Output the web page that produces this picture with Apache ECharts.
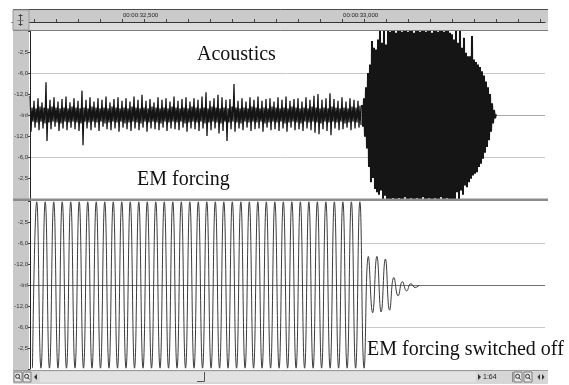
<!DOCTYPE html>
<html>
<head>
<meta charset="utf-8">
<title>Acoustics and EM forcing</title>
<script src="https://cdn.jsdelivr.net/npm/echarts@6/dist/echarts.min.js"></script>
<style>
  html, body { margin: 0; padding: 0; background: #ffffff; }
  #chart { width: 569px; height: 385px; }
</style>
</head>
<body>
<div id="chart"></div>
<script>
// ---- time window (milliseconds) ----
const viewStartMs = 32291;
const viewEndMs = 33461;
const rulerStartMs = 32250;
const rulerMinorMs = 50;
const rulerMajorMs = 500;

// ---- level marks: linear amplitude and the dB caption shown for it ----
const levelAmplitudes = [0.25, 0.5, 0.75];
const levelLabels = ['-12,0', '-6,0', '-2,5'];
const silenceLabel = '-Inf';

// ---- acoustic channel: one sample per screen column ----
const acousticStartMs = 32291;
const acousticStepMs = 2.2718;

// background noise before the burst
const acousticNoise = [
  0.23,-0.2,0.09,-0.08, 0.17,-0.15,0.08,-0.09, 0.2,-0.18,0.1,-0.08, 0.15,-0.16,0.09,-0.1,
  0.39,-0.31,0.08,-0.09, 0.18,-0.17,0.1,-0.08, 0.21,-0.14,0.09,-0.09, 0.16,-0.19,0.08,-0.1,
  0.19,-0.16,0.09,-0.08, 0.22,-0.18,0.08,-0.09, 0.15,-0.15,0.1,-0.08, 0.2,-0.17,0.09,-0.09,
  0.17,-0.19,0.08,-0.1, 0.29,-0.36,0.09,-0.08, 0.18,-0.16,0.08,-0.09, 0.21,-0.18,0.1,-0.08,
  0.16,-0.15,0.09,-0.09, 0.2,-0.19,0.08,-0.08, 0.18,-0.14,0.09,-0.1, 0.22,-0.17,0.08,-0.09,
  0.15,-0.18,0.1,-0.08, 0.19,-0.16,0.09,-0.09, 0.21,-0.2,0.08,-0.08, 0.17,-0.15,0.09,-0.1,
  0.2,-0.17,0.08,-0.09, 0.16,-0.19,0.1,-0.08, 0.22,-0.16,0.09,-0.09, 0.18,-0.18,0.08,-0.1,
  0.24,-0.15,0.09,-0.08, 0.17,-0.2,0.08,-0.09, 0.19,-0.16,0.1,-0.08, 0.15,-0.17,0.09,-0.09,
  0.21,-0.18,0.08,-0.1, 0.18,-0.15,0.09,-0.08, 0.2,-0.19,0.08,-0.09, 0.16,-0.16,0.1,-0.08,
  0.22,-0.17,0.09,-0.09, 0.17,-0.18,0.08,-0.08, 0.19,-0.15,0.09,-0.1, 0.21,-0.2,0.08,-0.09,
  0.16,-0.16,0.1,-0.08, 0.2,-0.17,0.09,-0.09, 0.18,-0.19,0.08,-0.08, 0.22,-0.16,0.09,-0.1,
  0.27,-0.25,0.08,-0.09, 0.17,-0.18,0.1,-0.08, 0.2,-0.16,0.09,-0.09, 0.24,-0.22,0.08,-0.1,
  0.21,-0.19,0.09,-0.08, 0.18,-0.31,0.08,-0.09, 0.19,-0.17,0.1,-0.08, 0.37,-0.2,0.09,-0.09,
  0.17,-0.16,0.08,-0.1, 0.2,-0.18,0.09,-0.08, 0.16,-0.15,0.08,-0.09, 0.21,-0.19,0.1,-0.08,
  0.18,-0.17,0.09,-0.09, 0.22,-0.16,0.08,-0.08, 0.17,-0.2,0.09,-0.1, 0.19,-0.15,0.08,-0.09,
  0.2,-0.18,0.1,-0.08, 0.16,-0.17,0.09,-0.09, 0.21,-0.19,0.08,-0.08, 0.18,-0.16,0.09,-0.1,
  0.22,-0.2,0.08,-0.09, 0.17,-0.15,0.1,-0.08, 0.19,-0.18,0.09,-0.09, 0.2,-0.17,0.08,-0.1,
  0.16,-0.19,0.09,-0.08, 0.21,-0.16,0.08,-0.09, 0.18,-0.18,0.1,-0.08, 0.23,-0.21,0.09,-0.09,
  0.25,-0.23,0.08,-0.1, 0.18,-0.17,0.09,-0.08, 0.2,-0.19,0.08,-0.09, 0.26,-0.24,0.1,-0.08,
  0.19,-0.16,0.09,-0.09, 0.17,-0.18,0.08,-0.08, 0.21,-0.17,0.09,-0.1, 0.16,-0.15,0.08,-0.09,
  0.2,-0.18,0.1,-0.08, 0.18,-0.16,0.09,-0.09, 0.17,-0.15,0.11,-0.12
];

// the loud burst that follows
const acousticBurst = [
  0.12,-0.14,0.2,-0.26,0.33,-0.4,0.5,-0.62,0.6,-0.8,
  0.88,-0.75,0.8,-0.88,0.78,-0.92,0.9,-0.95,1,-0.9,
  0.86,-1,1,-0.96,0.84,-1,1,-1,0.99,-1,
  1,-0.99,1,-1,0.98,-1,1,-0.99,1,-1,
  0.99,-1,1,-0.98,1,-1,0.99,-1,1,-0.99,
  1,-1,0.98,-1,1,-0.99,1,-1,0.99,-1,
  1,-0.98,1,-1,0.99,-1,1,-0.99,1,-1,
  0.98,-1,1,-0.99,1,-1,0.99,-1,1,-0.98,
  1,-1,0.99,-1,1,-0.99,1,-1,0.98,-1,
  0.96,-1,0.9,-1,1,-0.92,0.86,-1,1,-0.9,
  0.8,-0.95,0.92,-0.84,0.74,-0.86,0.7,-0.8,0.7,-0.76,
  0.94,-0.72,0.66,-0.7,0.63,-0.68,0.6,-0.62,0.57,-0.58,
  0.52,-0.52,0.47,-0.45,0.4,-0.38,0.33,-0.3,0.25,-0.2,
  0.14,-0.1,0.06,-0.04,0.01
];

// ---- EM forcing channel: successive extrema, half a period apart ----
const emStartMs = 32296.6;
const emHalfPeriodMs = 9.66;
const emForcing = [
  -0.99,0.99,-0.99,0.99,-0.99,0.99,-0.99,0.99,-0.99,0.99,
  -0.99,0.99,-0.99,0.99,-0.99,0.99,-0.99,0.99,-0.99,0.99,
  -0.99,0.99,-0.99,0.99,-0.99,0.99,-0.99,0.99,-0.99,0.99,
  -0.99,0.99,-0.99,0.99,-0.99,0.99,-0.99,0.99,-0.99,0.99,
  -0.99,0.99,-0.99,0.99,-0.99,0.99,-0.99,0.99,-0.99,0.99,
  -0.99,0.99,-0.99,0.99,-0.99,0.99,-0.99,0.99,-0.99,0.99,
  -0.99,0.99,-0.99,0.99,-0.99,0.99,-0.99,0.99,-0.99,0.99,
  -0.99,0.99,-0.99,0.99,-0.99,0.99,-0.99,0.99,-0.99,
  // forcing switched off: ringing dies away
  0.34,-0.33,0.34,-0.32,0.31,-0.3,0.09,-0.13,0.04,-0.07,0.015,-0.03,0
];

const burstStartMs = acousticStartMs + acousticNoise.length * acousticStepMs;
const noiseData = acousticNoise.map((v, i) => [acousticStartMs + i * acousticStepMs, v]);
const burstData = acousticBurst.map((v, i) => [burstStartMs + i * acousticStepMs, v]);
const emData = emForcing.map((v, i) => [emStartMs + i * emHalfPeriodMs, v]);

function levelCaption(v) {
  const a = Math.round(Math.abs(v) * 100) / 100;
  if (a === 0) return silenceLabel;
  const k = levelAmplitudes.indexOf(a);
  return k >= 0 ? levelLabels[k] : '';
}

function rulerCaption(v) {
  const t = Math.round(v);
  if (t % rulerMajorMs !== 0) return '';
  const s = Math.floor(t / 1000);
  const ms = t % 1000;
  return '00:00:' + s + ',' + String(ms).padStart(3, '0');
}

const SANS = '"Liberation Sans", Arial, sans-serif';
const SERIF = '"Liberation Serif", "Times New Roman", serif';
const WAVE = '#151515';

function levelAxis(gridIndex) {
  return {
    type: 'value', gridIndex, min: -1, max: 1, interval: 0.25,
    axisLine: { show: true, lineStyle: { color: '#222', width: 1 } },
    axisTick: { show: true, length: 2, lineStyle: { color: '#444' } },
    axisLabel: { show: true, formatter: levelCaption, fontSize: 6, fontFamily: SANS, color: '#333', margin: 2 },
    splitLine: { show: false }
  };
}
function guideAxis(gridIndex, centreColor) {
  return {
    type: 'value', gridIndex, min: -1, max: 1, interval: 0.5,
    axisLine: { show: false }, axisTick: { show: false }, axisLabel: { show: false },
    splitLine: { show: true, lineStyle: { width: 1, color: ['rgba(0,0,0,0)', '#c8c8c8', centreColor, '#c8c8c8', 'rgba(0,0,0,0)'] } }
  };
}

function magnifier(x, y) {
  return [
    { type: 'rect', z: 30, shape: { x: x, y: y, width: 8, height: 10 }, style: { fill: '#e6e6e6', stroke: '#7a7a7a', lineWidth: 1 } },
    { type: 'circle', z: 31, shape: { cx: x + 3.6, cy: y + 4.3, r: 2 }, style: { fill: 'none', stroke: '#333', lineWidth: 1 } },
    { type: 'line', z: 31, shape: { x1: x + 5, y1: y + 5.8, x2: x + 6.6, y2: y + 7.6 }, style: { stroke: '#333', lineWidth: 1 } }
  ];
}

const chrome = [
  // ruler band
  { type: 'rect', z: -5, shape: { x: 13, y: 9, width: 535, height: 22 }, style: { fill: '#cacaca' } },
  { type: 'rect', z: -4, shape: { x: 29, y: 23, width: 519, height: 7 }, style: { fill: '#dddddd' } },
  { type: 'line', z: 30, shape: { x1: 13, y1: 9.5, x2: 548, y2: 9.5 }, style: { stroke: '#4a4a4a', lineWidth: 1 } },
  { type: 'line', z: 30, shape: { x1: 13, y1: 30.5, x2: 548, y2: 30.5 }, style: { stroke: '#7c7c7c', lineWidth: 1 } },
  // left margin column
  { type: 'rect', z: -5, shape: { x: 13, y: 31, width: 16, height: 339 }, style: { fill: '#c8c8c8' } },
  // ruler corner box with its little handle
  { type: 'rect', z: 41, shape: { x: 13, y: 10, width: 16, height: 20 }, style: { fill: '#c8c8c8', stroke: '#9a9a9a', lineWidth: 1 } },
  { type: 'line', z: 42, shape: { x1: 20.5, y1: 14, x2: 20.5, y2: 26 }, style: { stroke: '#444', lineWidth: 1 } },
  { type: 'line', z: 42, shape: { x1: 18.5, y1: 15.5, x2: 22.5, y2: 15.5 }, style: { stroke: '#444', lineWidth: 1 } },
  { type: 'line', z: 42, shape: { x1: 18.5, y1: 24.5, x2: 22.5, y2: 24.5 }, style: { stroke: '#444', lineWidth: 1 } },
  { type: 'line', z: 42, shape: { x1: 17.5, y1: 20.5, x2: 23.5, y2: 20.5 }, style: { stroke: '#777', lineWidth: 1 } },
  // channel separator
  { type: 'rect', z: 30, shape: { x: 13, y: 198.5, width: 535, height: 2.5 }, style: { fill: '#8c8c8c' } },
  // scroll bar
  { type: 'rect', z: 30, shape: { x: 13, y: 370, width: 535, height: 14 }, style: { fill: '#d6d6d6' } },
  { type: 'line', z: 31, shape: { x1: 13, y1: 370.5, x2: 548, y2: 370.5 }, style: { stroke: '#9a9a9a', lineWidth: 1 } },
  { type: 'rect', z: 30, shape: { x: 40, y: 372, width: 436, height: 10 }, style: { fill: '#e2e2e2' } },
  { type: 'polygon', z: 31, shape: { points: [[37, 374], [34, 377], [37, 380]] }, style: { fill: '#333' } },
  { type: 'polyline', z: 31, shape: { points: [[197, 381.5], [204.5, 381.5], [204.5, 372]] }, style: { stroke: '#555', lineWidth: 1 } },
  { type: 'polygon', z: 31, shape: { points: [[478, 374], [481, 377], [478, 380]] }, style: { fill: '#333' } },
  { type: 'text', z: 31, x: 483, y: 377, style: { text: '1:64', font: '7px ' + SANS, fill: '#222', verticalAlign: 'middle' } },
  { type: 'line', z: 31, shape: { x1: 512.5, y1: 372, x2: 512.5, y2: 382 }, style: { stroke: '#8a8a8a', lineWidth: 1 } },
  { type: 'polygon', z: 31, shape: { points: [[540, 374], [537.5, 377], [540, 380]] }, style: { fill: '#333' } },
  { type: 'polygon', z: 31, shape: { points: [[542, 374], [544.5, 377], [542, 380]] }, style: { fill: '#333' } }
].concat(magnifier(14, 372), magnifier(23, 372), magnifier(514, 372), magnifier(524, 372));

const captions = [
  { type: 'text', z: 50, x: 197, y: 55, style: { text: 'Acoustics', font: '20px ' + SERIF, fill: '#111', verticalAlign: 'middle' } },
  { type: 'text', z: 50, x: 137, y: 180, style: { text: 'EM forcing', font: '20px ' + SERIF, fill: '#111', verticalAlign: 'middle' } },
  { type: 'text', z: 50, x: 367, y: 350, style: { text: 'EM forcing switched off', font: '20px ' + SERIF, fill: '#111', verticalAlign: 'middle' } }
];

const chart = echarts.init(document.getElementById('chart'), null, { renderer: 'canvas' });
chart.setOption({
  animation: false,
  backgroundColor: '#ffffff',
  grid: [
    { left: 12, right: 24, top: 9, height: 13 },      // time ruler
    { left: 30, right: 24, top: 31, height: 168 },    // acoustics
    { left: 30, right: 24, top: 201, height: 168 }    // EM forcing
  ],
  xAxis: [
    {
      type: 'value', gridIndex: 0, min: rulerStartMs, max: viewEndMs, interval: rulerMinorMs,
      axisLine: { show: true, lineStyle: { color: '#333' } },
      axisTick: { show: true, inside: true, length: 3, lineStyle: { color: '#444' } },
      axisLabel: { show: true, inside: true, formatter: rulerCaption, align: 'left', margin: 4,
                   fontSize: 6, fontFamily: SANS, color: '#222', padding: [0, 0, 0, 1],
                   showMinLabel: false, showMaxLabel: false },
      splitLine: { show: false }
    },
    { type: 'value', gridIndex: 1, min: viewStartMs, max: viewEndMs, show: false },
    { type: 'value', gridIndex: 2, min: viewStartMs, max: viewEndMs, show: false }
  ],
  yAxis: [
    { type: 'value', gridIndex: 0, min: 0, max: 1, show: false },
    levelAxis(1), guideAxis(1, '#a8a8a8'),
    levelAxis(2), guideAxis(2, '#707070')
  ],
  series: [
    {
      name: 'Acoustics noise', type: 'line', xAxisIndex: 1, yAxisIndex: 1,
      data: noiseData, showSymbol: false, symbol: 'none', clip: true, z: 3,
      lineStyle: { color: WAVE, width: 1.3 }
    },
    {
      name: 'Acoustics burst', type: 'line', xAxisIndex: 1, yAxisIndex: 1,
      data: burstData, showSymbol: false, symbol: 'none', clip: true, z: 3,
      lineStyle: { color: WAVE, width: 2 }
    },
    {
      name: 'EM forcing', type: 'line', xAxisIndex: 2, yAxisIndex: 3,
      data: emData, smooth: true, showSymbol: false, symbol: 'none', clip: true, z: 3,
      lineStyle: { color: '#3a3a3a', width: 1 }
    }
  ],
  graphic: { elements: chrome.concat(captions) }
});
</script>
</body>
</html>
